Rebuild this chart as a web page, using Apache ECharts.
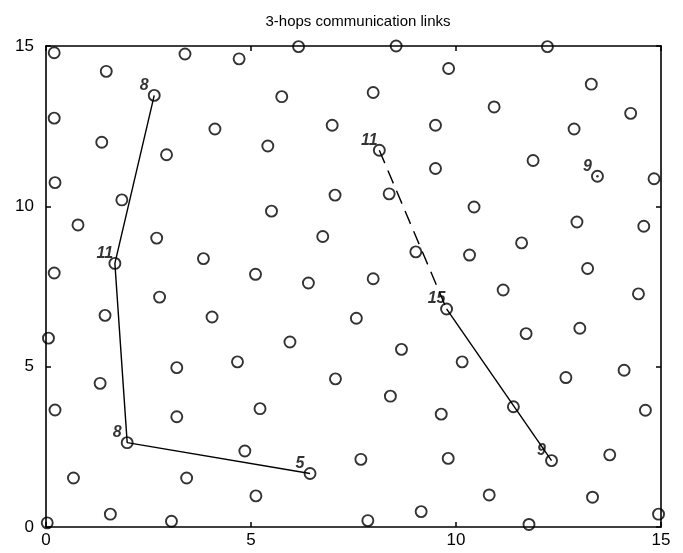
<!DOCTYPE html>
<html>
<head>
<meta charset="utf-8">
<script src="https://cdn.jsdelivr.net/npm/echarts@6/dist/echarts.min.js"></script>
<style>html,body{margin:0;padding:0;background:#fff}#c{width:683px;height:553px}</style>
</head>
<body>
<div id="c"></div>
<script>
const titleText = '3-hops communication links';
const tickValues = [0, 5, 10, 15];
const nodes = [
[0.2,14.79],[1.47,14.21],[3.39,14.75],[4.71,14.6],[2.64,13.46],[0.2,12.75],[1.36,12.0],[4.12,12.41],[2.94,11.61],[0.22,10.74],
[1.85,10.2],[0.78,9.42],[2.7,9.01],[3.84,8.37],[1.68,8.22],[0.2,7.92],[5.11,7.88],[6.4,7.61],[2.77,7.17],[1.44,6.6],
[4.05,6.55],[7.57,6.51],[0.06,5.89],[5.95,5.77],[4.67,5.15],[3.19,4.97],[7.06,4.62],[1.32,4.48],[5.22,3.69],[0.22,3.65],
[3.19,3.44],[1.98,2.63],[4.85,2.37],[7.68,2.11],[6.44,1.67],[0.67,1.53],[3.43,1.53],[5.12,0.97],[1.57,0.4],[3.06,0.18],[0.03,0.13],
[6.16,14.98],[8.54,15.0],[9.82,14.3],[5.75,13.42],[7.98,13.55],[6.98,12.53],[9.5,12.53],[5.41,11.88],[8.13,11.75],[9.5,11.18],
[7.05,10.35],[8.37,10.39],[5.5,9.85],[6.75,9.06],[9.02,8.58],
[12.88,12.41],[11.88,11.43],[10.44,9.98],[12.95,9.51],[10.33,8.48],[11.6,8.86],[13.21,8.06],[7.98,7.74],[11.15,7.39],[9.77,6.8],
[11.71,6.03],[13.02,6.2],[8.67,5.54],[10.15,5.15],[12.68,4.66],[8.4,4.08],[9.64,3.52],[11.4,3.75],[9.81,2.14],[12.33,2.07],
[12.23,14.98],[13.3,13.81],[10.93,13.1],[14.26,12.9],[13.45,10.94],[14.83,10.86],[14.58,9.38],[14.45,7.27],[14.1,4.89],[14.62,3.64],
[13.75,2.25],[10.81,1.0],[13.33,0.93],[14.94,0.4],[11.78,0.08],[7.85,0.2],[9.15,0.48]
];
const path1 = [[2.64,13.46],[1.68,8.22],[1.98,2.63],[6.44,1.67]];
const path2Dashed = [[8.13,11.75],[9.77,6.8]];
const path2Solid = [[9.77,6.8],[12.33,2.07]];
const nodeLabels = [
[2.64,13.46,'8'],[1.68,8.22,'11'],[1.98,2.63,'8'],[6.44,1.67,'5'],
[8.13,11.75,'11'],[9.77,6.8,'15'],[12.33,2.07,'9'],[13.45,10.94,'9']
];
const centerDots = [[13.45,10.94]];

const sans = 'Liberation Sans, Arial, sans-serif';
const labelFont = {fontFamily:sans, fontSize:17, color:'#000'};
const axisLine = {show:true, onZero:false, lineStyle:{color:'#000', width:1.6}};
const axisTick = {show:true, inside:true, length:5, lineStyle:{color:'#000', width:1.5}};

const chart = echarts.init(document.getElementById('c'), null, {renderer:'canvas'});
chart.setOption({
  animation:false,
  backgroundColor:'#fff',
  title:{text:titleText, left:353, top:9, textAlign:'center',
    textStyle:{fontFamily:sans, fontSize:15, fontWeight:'normal', color:'#000'}},
  grid:{left:46, right:22, top:46, bottom:26, containLabel:false},
  xAxis:[
    {type:'value', min:0, max:15, interval:5, position:'bottom', axisLine, axisTick,
     axisLabel:{...labelFont, margin:5}, splitLine:{show:false}},
    {type:'value', min:0, max:15, interval:5, position:'top', axisLine, axisTick,
     axisLabel:{show:false}, splitLine:{show:false}}
  ],
  yAxis:[
    {type:'value', min:0, max:15, interval:5, position:'left', axisLine, axisTick,
     axisLabel:{...labelFont, margin:12}, splitLine:{show:false}},
    {type:'value', min:0, max:15, interval:5, position:'right', axisLine, axisTick,
     axisLabel:{show:false}, splitLine:{show:false}}
  ],
  series:[
    {type:'line', data:path1, symbol:'none', clip:false, lineStyle:{color:'#000', width:1.4}, z:3},
    {type:'line', data:path2Dashed, symbol:'none', clip:false, lineStyle:{color:'#000', width:1.4, type:[14,8]}, z:3},
    {type:'line', data:path2Solid, symbol:'none', clip:false, lineStyle:{color:'#000', width:1.4}, z:3},
    {type:'scatter', data:nodes, symbol:'circle', symbolSize:11, clip:false,
     itemStyle:{color:'rgba(255,255,255,0)', borderColor:'#000', borderWidth:1.9}, z:4},
    {type:'scatter', data:centerDots, symbol:'circle', symbolSize:2.5, clip:false,
     itemStyle:{color:'#000'}, z:5},
    {type:'scatter', data:nodeLabels.map(d=>({value:[d[0],d[1]], name:d[2]})), symbolSize:0, clip:false,
     label:{show:true, position:'inside', offset:[-10,-10], formatter:p=>p.name,
       fontFamily:sans, fontSize:16, fontWeight:'bold', fontStyle:'italic', color:'#000'}, z:6}
  ]
});
</script>
</body>
</html>
